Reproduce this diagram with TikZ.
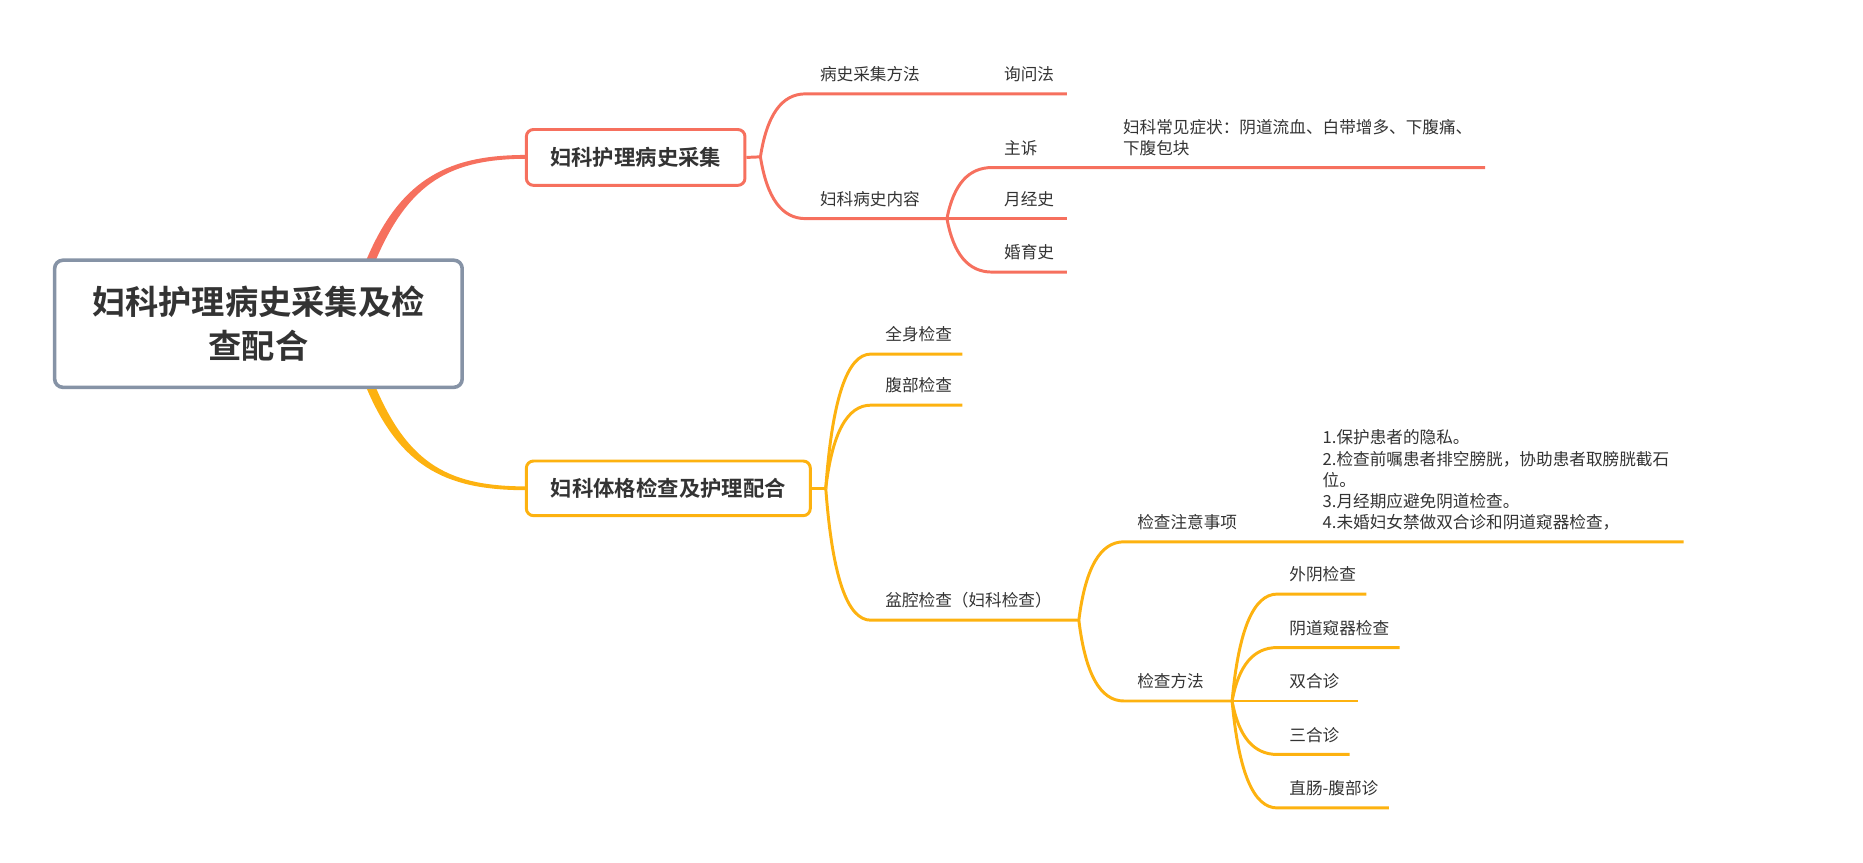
\documentclass[tikz,border=0pt]{standalone}
\usepackage{fontspec}
\setmainfont{Noto Sans CJK SC}[BoldFont={Noto Sans CJK SC Bold}]
\usetikzlibrary{calc}
\definecolor{redb}{RGB}{246,112,94}
\definecolor{orb}{RGB}{253,178,16}
\definecolor{cen}{RGB}{134,147,166}
\definecolor{txt}{RGB}{51,51,51}
\tikzset{
  lbl/.style={anchor=south west, inner sep=0pt, text depth=2pt, align=left,
    font=\fontsize{14}{17.8}\selectfont, text=txt},
  rline/.style={draw=redb, line width=2.5pt, line join=round},
  oline/.style={draw=orb, line width=2.5pt, line join=round},
  branch/.style={to path={.. controls ($(\tikztostart)!0.667!(\tikztostart|-\tikztotarget)+(5.5,0)$) and ($(\tikztotarget)+(-20,0)$) .. (\tikztotarget)}},
  topicbox/.style={rounded corners=6pt, line width=2.5pt, fill=white, text=txt,
    font=\bfseries\fontsize{18}{22}\selectfont, inner sep=0pt},
}
\begin{document}
\begin{tikzpicture}[x=1pt,y=-1pt]
\useasboundingbox (0,0) rectangle (1568,726);
% ---- main connectors (tapered) ----
\coordinate (c1s) at (311,222);
\coordinate (c2s) at (311,323);
\coordinate (b1in) at (444,132);
\coordinate (b2in) at (444,411);
\fill[redb] ($(c1s)+(-4,0)$) .. controls (337,148) and (380,130.3) .. ($(b1in)+(0,-1.6)$)
  -- ($(b1in)+(0,1.6)$) .. controls (380,133.7) and (344,152) .. ($(c1s)+(4,0)$) -- cycle;
\fill[orb] ($(c2s)+(-4,0)$) .. controls (337,397) and (380,412.6) .. ($(b2in)+(0,1.6)$)
  -- ($(b2in)+(0,-1.6)$) .. controls (380,409.4) and (344,393) .. ($(c2s)+(4,0)$) -- cycle;
% ---- central topic ----
\node[draw=cen, line width=3pt, rounded corners=7pt, fill=white, minimum width=343pt,
  minimum height=107pt, align=center, inner sep=0pt, text=txt,
  font=\bfseries\fontsize{28}{37}\selectfont] (root) at (217.5,272.5) {妇科护理病史采集及检\\查配合};
% ---- main topics ----
\node[topicbox, draw=redb, minimum width=184pt, minimum height=47pt] (b1) at (535,132.5) {妇科护理病史采集};
\node[topicbox, draw=orb, minimum width=239pt, minimum height=46pt] (b2) at (562.5,411) {妇科体格检查及护理配合};
% ---- red branch coordinates ----
\coordinate (f1) at (640,132);
\coordinate (s11) at (678,79);   \coordinate (e11) at (898,79);
\coordinate (s12) at (678,184);  \coordinate (f12) at (797,184);
\coordinate (s121) at (835,141); \coordinate (e121) at (1250,141);
\coordinate (e122) at (898,184);
\coordinate (s123) at (835,229); \coordinate (e123) at (898,229);
\draw[rline] (b1.east) -- (f1);
\draw[rline] (f1) to[branch] (s11) -- (e11);
\draw[rline] (f1) to[branch] (s12) -- (f12);
\draw[rline] (f12) to[branch] (s121) -- (e121);
\draw[rline] (f12) -- (e122);
\draw[rline] (f12) to[branch] (s123) -- (e123);
% ---- orange branch coordinates ----
\coordinate (f2) at (695,411);
\coordinate (s21) at (733,298);  \coordinate (e21) at (810,298);
\coordinate (s22) at (733,341);  \coordinate (e22) at (810,341);
\coordinate (s23) at (733,522);  \coordinate (f23) at (908,522);
\coordinate (s231) at (946,456); \coordinate (e231) at (1417,456);
\coordinate (s232) at (946,590); \coordinate (f232) at (1037,590);
\coordinate (s2321) at (1075,500); \coordinate (e2321) at (1150,500);
\coordinate (s2322) at (1075,545); \coordinate (e2322) at (1178,545);
\coordinate (e2323) at (1143,590);
\coordinate (s2324) at (1075,635); \coordinate (e2324) at (1136,635);
\coordinate (s2325) at (1075,680); \coordinate (e2325) at (1169,680);
\draw[oline] (b2.east) -- (f2);
\draw[oline] (f2) to[branch] (s21) -- (e21);
\draw[oline] (f2) to[branch] (s22) -- (e22);
\draw[oline] (f2) to[branch] (s23) -- (f23);
\draw[oline] (f23) to[branch] (s231) -- (e231);
\draw[oline] (f23) to[branch] (s232) -- (f232);
\draw[oline] (f232) to[branch] (s2321) -- (e2321);
\draw[oline] (f232) to[branch] (s2322) -- (e2322);
\draw[oline] (f232) -- (e2323);
\draw[oline] (f232) to[branch] (s2324) -- (e2324);
\draw[oline] (f232) to[branch] (s2325) -- (e2325);
% ---- labels ----
\node[lbl] (n11) at (690,70) {病史采集方法};
\node[lbl] (n111) at (845,70) {询问法};
\node[lbl] (n12) at (690,175) {妇科病史内容};
\node[lbl] (n121) at (845,132) {主诉};
\node[lbl] (n1211) at (945,132) {妇科常见症状：阴道流血、白带增多、下腹痛、\\下腹包块};
\node[lbl] (n122) at (845,175) {月经史};
\node[lbl] (n123) at (845,220) {婚育史};
\node[lbl] (n21) at (745,289) {全身检查};
\node[lbl] (n22) at (745,332) {腹部检查};
\node[lbl] (n23) at (745,513) {盆腔检查（妇科检查）};
\node[lbl] (n231) at (957,447) {检查注意事项};
\node[lbl] (n2311) at (1113,447) {1.保护患者的隐私。\\2.检查前嘱患者排空膀胱，协助患者取膀胱截石\\位。\\3.月经期应避免阴道检查。\\4.未婚妇女禁做双合诊和阴道窥器检查，};
\node[lbl] (n232) at (957,581) {检查方法};
\node[lbl] (n2321) at (1085,491) {外阴检查};
\node[lbl] (n2322) at (1085,536) {阴道窥器检查};
\node[lbl] (n2323) at (1085,581) {双合诊};
\node[lbl] (n2324) at (1085,626) {三合诊};
\node[lbl] (n2325) at (1085,671) {直肠-腹部诊};
\end{tikzpicture}
\end{document}
